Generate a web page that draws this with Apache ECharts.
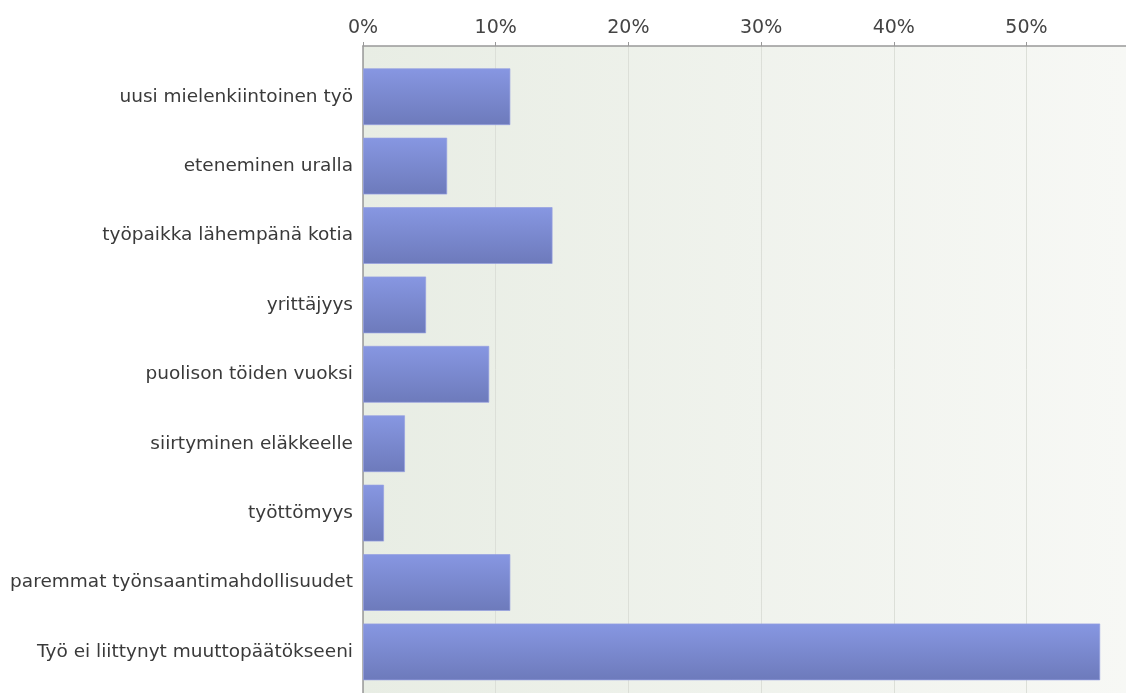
<!DOCTYPE html>
<html>
<head>
<meta charset="utf-8">
<script src="https://cdn.jsdelivr.net/npm/echarts@6/dist/echarts.min.js"></script>
<style>
html,body{margin:0;padding:0;background:#fff;}
#c{width:1126px;height:693px;}
</style>
</head>
<body>
<div id="c"></div>
<script>
const categories = [
  "uusi mielenkiintoinen työ",
  "eteneminen uralla",
  "työpaikka lähempänä kotia",
  "yrittäjyys",
  "puolison töiden vuoksi",
  "siirtyminen eläkkeelle",
  "työttömyys",
  "paremmat työnsaantimahdollisuudet",
  "Työ ei liittynyt muuttopäätökseeni"
];
const values = [11.11, 6.35, 14.29, 4.76, 9.52, 3.17, 1.59, 11.11, 55.56];
const xTicks = [0, 10, 20, 30, 40, 50];
const xMax = 57.5;

const chart = echarts.init(document.getElementById('c'), null, {renderer:'canvas'});
const font = "'DejaVu Sans', Verdana, sans-serif";
chart.setOption({
  animation: false,
  grid: [
    {left: 363, right: 0, top: 46, bottom: 0, show: true, borderWidth: 0,
     backgroundColor: new echarts.graphic.LinearGradient(0,0,1,0,[
       {offset:0,color:'#e8ede4'},{offset:1,color:'#f7f8f5'}])},
    {left: 363, right: 0, top: 62, height: 624.6}
  ],
  xAxis: [
    {gridIndex: 0, type: 'value', position: 'top', min: 0, max: xMax, interval: 10,
     axisLine: {show: true, onZero: false, lineStyle: {color: '#999', width: 1.5}},
     axisTick: {show: true, length: 4, lineStyle: {color: '#999'}},
     axisLabel: {formatter: function(v){ return xTicks.indexOf(v) >= 0 ? v + '%' : ''; },
       showMaxLabel: false, color: '#444', fontSize: 19, fontFamily: font, margin: 8},
     splitLine: {show: true, lineStyle: {color: '#dcdfd8', width: 1}}},
    {gridIndex: 1, type: 'value', min: 0, max: xMax, show: false}
  ],
  yAxis: [
    {gridIndex: 0, type: 'value', min: 0, max: 1, show: true,
     axisLine: {show: true, onZero: false, lineStyle: {color: '#999', width: 1.5}},
     axisTick: {show: false}, axisLabel: {show: false}, splitLine: {show: false}},
    {gridIndex: 1, type: 'category', data: categories, inverse: true,
     axisLine: {show: false}, axisTick: {show: false},
     axisLabel: {color: '#3a3a3a', fontSize: 18.5, fontFamily: font, margin: 10}}
  ],
  series: [{
    type: 'bar', xAxisIndex: 1, yAxisIndex: 1, data: values,
    barWidth: 57,
    itemStyle: {
      color: new echarts.graphic.LinearGradient(0,0,0,1,[
        {offset:0,color:'#8797e2'},{offset:1,color:'#6d7abb'}]),
      borderColor: 'rgba(150,160,225,0.7)', borderWidth: 1
    }
  }]
});
</script>
</body>
</html>
